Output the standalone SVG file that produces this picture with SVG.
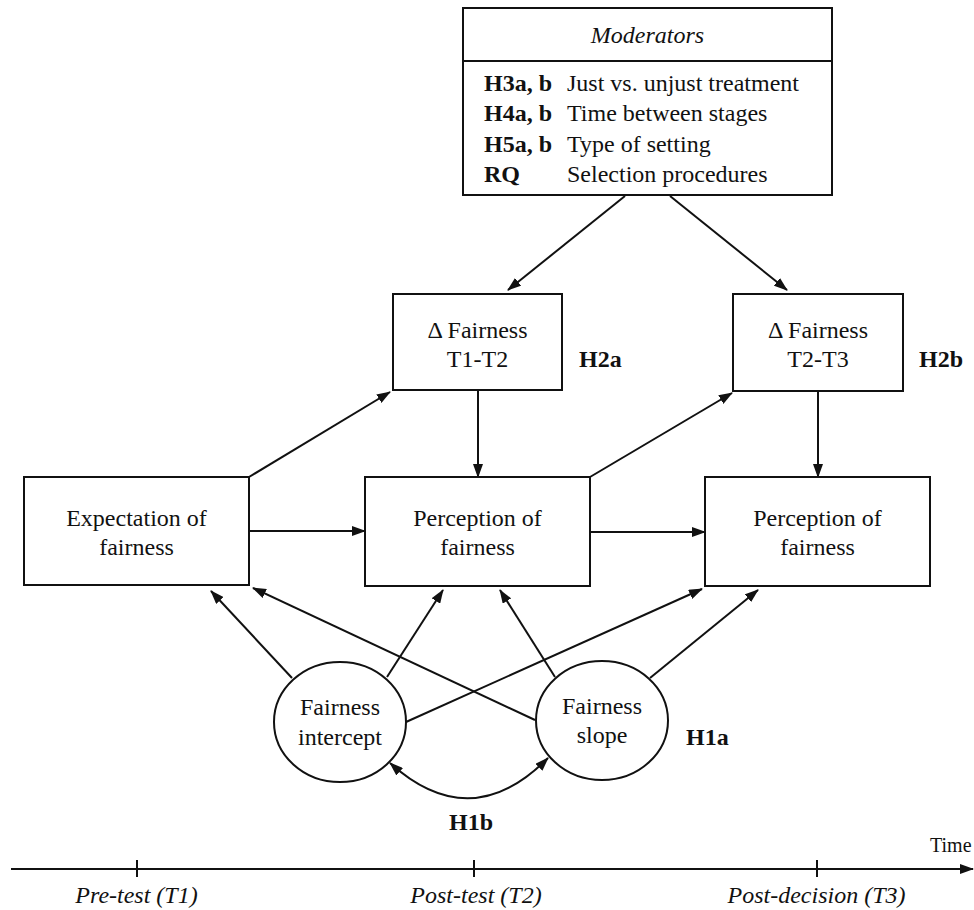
<svg xmlns="http://www.w3.org/2000/svg" width="974" height="910" viewBox="0 0 974 910">
<style>
.box{fill:#fff;stroke:#111;stroke-width:2}
.t{font-family:"Liberation Serif","Times New Roman",serif;font-size:24px;fill:#111}
.c{text-anchor:middle}
.b{font-weight:bold}
.i{font-style:italic}
.ln{fill:none;stroke:#111;stroke-width:2}
</style>
<defs>
<marker id="ah" viewBox="0 0 14 10" markerWidth="14" markerHeight="10" refX="13" refY="5" orient="auto-start-reverse" markerUnits="userSpaceOnUse">
<path d="M0,0 L14,5 L0,10 z" fill="#111"/>
</marker>
</defs>
<rect width="974" height="910" fill="#fff"/>

<g id="connectors">
<line class="ln" x1="625" y1="196" x2="508" y2="290" marker-end="url(#ah)"/>
<line class="ln" x1="670" y1="196" x2="787" y2="290" marker-end="url(#ah)"/>
<line class="ln" x1="249" y1="477" x2="390" y2="392" marker-end="url(#ah)"/>
<line class="ln" x1="590" y1="477" x2="732" y2="393" marker-end="url(#ah)"/>
<line class="ln" x1="478" y1="390" x2="478" y2="477" marker-end="url(#ah)"/>
<line class="ln" x1="818" y1="391" x2="818" y2="477" marker-end="url(#ah)"/>
<line class="ln" x1="249" y1="531" x2="365" y2="531" marker-end="url(#ah)"/>
<line class="ln" x1="590" y1="532" x2="705" y2="532" marker-end="url(#ah)"/>
<line class="ln" x1="292" y1="678" x2="211" y2="591" marker-end="url(#ah)"/>
<line class="ln" x1="535" y1="720" x2="253" y2="588" marker-end="url(#ah)"/>
<line class="ln" x1="387" y1="677" x2="443" y2="590" marker-end="url(#ah)"/>
<line class="ln" x1="555" y1="677" x2="500" y2="590" marker-end="url(#ah)"/>
<line class="ln" x1="406" y1="722" x2="702" y2="589" marker-end="url(#ah)"/>
<line class="ln" x1="650" y1="678" x2="758" y2="590" marker-end="url(#ah)"/>
<path class="ln" d="M390,763 Q471,836 548,758" marker-start="url(#ah)" marker-end="url(#ah)"/>
</g>

<g id="moderators">
<rect class="box" x="463" y="8" width="369" height="187"/>
<line class="ln" x1="463" y1="61" x2="832" y2="61"/>
<text class="t i c" x="647.5" y="43">Moderators</text>
<text class="t b" x="484" y="91">H3a, b</text>
<text class="t" x="567" y="91">Just vs. unjust treatment</text>
<text class="t b" x="484" y="121">H4a, b</text>
<text class="t" x="567" y="121">Time between stages</text>
<text class="t b" x="484" y="152">H5a, b</text>
<text class="t" x="567" y="152">Type of setting</text>
<text class="t b" x="484" y="182">RQ</text>
<text class="t" x="567" y="182">Selection procedures</text>
</g>

<g id="delta1">
<rect class="box" x="393" y="294" width="169" height="96"/>
<text class="t c" x="477.5" y="338">Δ Fairness</text>
<text class="t c" x="477.5" y="367">T1-T2</text>
</g>
<g id="h2a"><text class="t b" x="579" y="367">H2a</text></g>

<g id="delta2">
<rect class="box" x="733" y="294" width="170" height="97"/>
<text class="t c" x="818" y="338">Δ Fairness</text>
<text class="t c" x="818" y="367">T2-T3</text>
</g>
<g id="h2b"><text class="t b" x="919" y="367">H2b</text></g>

<g id="expectation">
<rect class="box" x="24" y="477" width="225" height="108"/>
<text class="t c" x="136.5" y="526">Expectation of</text>
<text class="t c" x="136.5" y="555">fairness</text>
</g>

<g id="perception1">
<rect class="box" x="365" y="477" width="225" height="109"/>
<text class="t c" x="477.5" y="526">Perception of</text>
<text class="t c" x="477.5" y="555">fairness</text>
</g>

<g id="perception2">
<rect class="box" x="705" y="477" width="225" height="109"/>
<text class="t c" x="817.5" y="526">Perception of</text>
<text class="t c" x="817.5" y="555">fairness</text>
</g>

<g id="intercept">
<ellipse class="box" cx="340" cy="722" rx="66" ry="60"/>
<text class="t c" x="340" y="715">Fairness</text>
<text class="t c" x="340" y="745">intercept</text>
</g>

<g id="slope">
<ellipse class="box" cx="602" cy="720.5" rx="66" ry="59.5"/>
<text class="t c" x="602" y="714">Fairness</text>
<text class="t c" x="602" y="743">slope</text>
</g>
<g id="h1a"><text class="t b" x="686" y="745">H1a</text></g>
<g id="h1b"><text class="t b c" x="471" y="830">H1b</text></g>

<g id="timeline">
<line class="ln" x1="11" y1="869" x2="973" y2="869" marker-end="url(#ah)"/>
<line class="ln" x1="137" y1="860" x2="137" y2="877"/>
<line class="ln" x1="474" y1="860" x2="474" y2="877"/>
<line class="ln" x1="817" y1="860" x2="817" y2="877"/>
<text class="t" x="930" y="852" style="font-size:20px">Time</text>
<text class="t i c" x="136.5" y="903">Pre-test (T1)</text>
<text class="t i c" x="476" y="903">Post-test (T2)</text>
<text class="t i c" x="816.5" y="903">Post-decision (T3)</text>
</g>
</svg>
